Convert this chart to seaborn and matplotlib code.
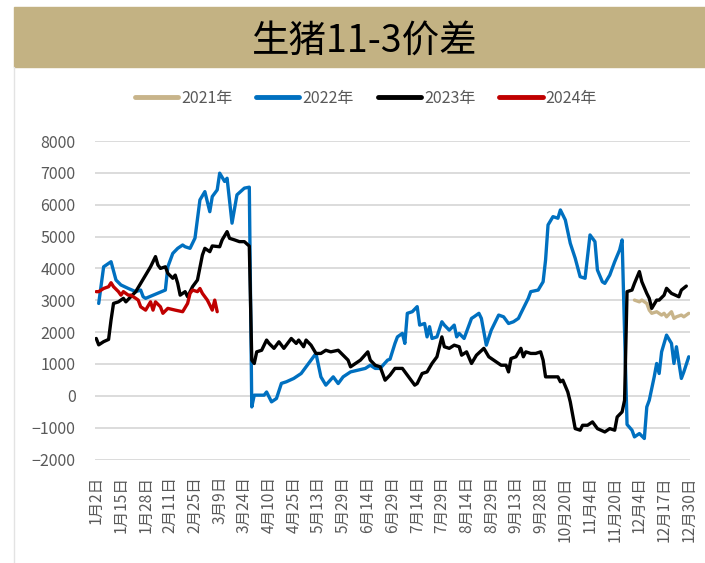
import numpy as np
import pandas as pd
import seaborn as sns
import matplotlib.pyplot as plt
from matplotlib.patches import Rectangle
from matplotlib.lines import Line2D

# x axis: trading-day categories, one label every 10 days
x_labels = ['1月2日', '1月15日', '1月28日', '2月11日', '2月25日', '3月9日', '3月24日',
            '4月10日', '4月25日', '5月13日', '5月29日', '6月14日', '6月29日', '7月14日',
            '7月29日', '8月14日', '8月29日', '9月13日', '9月28日', '10月20日', '11月4日',
            '11月20日', '12月4日', '12月17日', '12月30日']
n_days = 241
label_step = 10

# series (day index, spread)
idx_2021 = [218, 220, 221, 223, 224, 225, 227, 229, 230, 231, 233, 234, 235, 237, 238, 240]
val_2021 = [3005, 2950, 3005, 2900, 2690, 2590, 2640, 2535, 2590, 2480, 2640, 2430, 2480,
            2535, 2480, 2590]

idx_2022 = [1, 3, 6, 8, 10, 13, 16, 18, 19, 20, 28, 29, 31, 33, 35, 36, 38, 40, 42, 44,
            46, 47, 49, 50, 52, 53, 55, 57, 60, 62, 63, 64, 68, 69, 71, 73, 75, 77, 80, 83,
            86, 88, 89, 91, 93, 96, 98, 100, 103, 106, 109, 111, 113, 115, 118, 119, 121, 122,
            124, 125, 126, 128, 130, 131, 133, 134, 135, 136, 138, 140, 141, 143, 145, 146,
            147, 149, 152, 153, 155, 156, 158, 160, 161, 163, 165, 167, 169, 171, 172, 174,
            175, 176, 179, 181, 182, 183, 185, 187, 188, 190, 192, 194, 196, 198, 200, 202,
            203, 205, 206, 208, 210, 212, 213, 215, 217, 218, 220, 222, 223, 224, 226, 227,
            228, 229, 230, 231, 233, 234, 235, 237, 238, 240]
val_2022 = [2900, 4050, 4210, 3635, 3480, 3370, 3270, 3320, 3110, 3060, 3320, 4050, 4470,
            4630, 4735, 4680, 4630, 4950, 6150, 6410, 5780, 6255, 6465, 6990, 6730, 6830,
            5420, 6310, 6520, 6550, -350, 20, 20, 120, -190, -85, 390, 440, 545, 700, 1015,
            1225, 1330, 595, 335, 595, 385, 595, 750, 805, 860, 960, 860, 860, 1120, 1150,
            1645, 1850, 1960, 1645, 2590, 2640, 2800, 2220, 2270, 1850, 2170, 1800, 1850,
            2325, 2220, 2060, 2220, 1850, 1960, 1800, 2430, 2480, 2590, 2430, 1590, 2060,
            2220, 2535, 2480, 2270, 2325, 2430, 2590, 2900, 3060, 3270, 3320, 3580, 4265,
            5365, 5625, 5575, 5835, 5520, 4790, 4320, 3740, 3690, 5050, 4840, 3950, 3580,
            3530, 3790, 4210, 4580, 4895, -900, -1080, -1290, -1185, -1340, -350, -140, 595,
            1015, 700, 1380, 1645, 1905, 1645, 1015, 1540, 545, 750, 1225]

idx_2023 = [0, 1, 3, 5, 6, 7, 9, 11, 12, 14, 16, 18, 20, 22, 23, 24, 25, 26, 28, 29, 31,
            32, 33, 34, 36, 37, 38, 39, 41, 43, 44, 46, 47, 50, 51, 53, 54, 56, 58, 60, 62,
            63, 64, 65, 67, 69, 70, 72, 74, 76, 79, 81, 82, 84, 85, 87, 89, 91, 93, 95, 98,
            100, 102, 103, 105, 107, 110, 111, 113, 115, 116, 117, 119, 121, 123, 124, 126,
            127, 129, 130, 132, 134, 136, 138, 140, 141, 143, 145, 147, 148, 150, 152, 154,
            157, 159, 162, 164, 166, 167, 168, 170, 172, 173, 174, 176, 178, 180, 181, 182,
            184, 187, 188, 189, 191, 192, 193, 194, 196, 197, 199, 201, 203, 206, 208, 210,
            211, 213, 214, 215, 217, 218, 220, 221, 223, 224, 225, 227, 228, 230, 231, 233,
            236, 237, 239]
val_2023 = [1800, 1600, 1700, 1770, 2380, 2900, 2950, 3060, 2950, 3110, 3270, 3530, 3790,
            4050, 4210, 4370, 4105, 4000, 4050, 3845, 3690, 3790, 3530, 3160, 3270, 3110,
            3270, 3425, 3635, 4420, 4630, 4525, 4705, 4680, 4895, 5155, 4945, 4895, 4840,
            4840, 4700, 1120, 1015, 1380, 1430, 1750, 1645, 1490, 1695, 1490, 1800, 1645,
            1750, 1540, 1750, 1590, 1330, 1330, 1430, 1380, 1430, 1275, 1120, 910, 1015, 1120,
            1380, 1120, 960, 910, 700, 490, 650, 860, 860, 860, 650, 545, 335, 385, 700, 750,
            1015, 1225, 1850, 1540, 1490, 1590, 1540, 1275, 1380, 1015, 1275, 1490, 1225,
            1065, 960, 960, 750, 1170, 1225, 1490, 1225, 1380, 1330, 1330, 1380, 1120, 595,
            595, 595, 440, 490, 120, -190, -610, -1030, -1080, -925, -925, -820, -1030, -1135,
            -1030, -1080, -665, -505, -140, 3270, 3320, 3530, 3900, 3580, 3215, 3060, 2745,
            3005, 3005, 3160, 3375, 3215, 3110, 3320, 3445]

idx_2024 = [0, 1, 3, 5, 6, 7, 9, 10, 11, 13, 14, 16, 17, 18, 20, 22, 23, 24, 26, 27, 29,
            32, 35, 37, 38, 39, 41, 42, 43, 45, 46, 47, 48, 49]
val_2024 = [3270, 3270, 3370, 3425, 3550, 3425, 3270, 3160, 3270, 3160, 3160, 3060, 3005,
            2795, 2690, 2950, 2690, 2950, 2795, 2590, 2745, 2690, 2640, 2900, 3215, 3320,
            3270, 3370, 3215, 3005, 2850, 2690, 3005, 2640]

years = ['2021年', '2022年', '2023年', '2024年']
colors = ['#C8B48A', '#0070C0', '#000000', '#C00000']

frames = []
for year, idx, val in zip(years, [idx_2021, idx_2022, idx_2023, idx_2024],
                          [val_2021, val_2022, val_2023, val_2024]):
    frames.append(pd.DataFrame({'day': idx, 'spread': val, 'year': year}))
df = pd.concat(frames, ignore_index=True)

sns.set_theme(style='white')
plt.rcParams['font.family'] = ['Noto Sans CJK SC', 'DejaVu Sans']

fig = plt.figure(figsize=(7.05, 5.63), dpi=100)
ax = fig.add_axes([95 / 705, 1 - 459.5 / 563, 595 / 705, 318.5 / 563])

# title band
fig.patches.append(Rectangle((14 / 705, 1 - 67 / 563), 1, 60 / 563,
                             transform=fig.transFigure, color='#C3B283', zorder=0))
fig.lines.append(Line2D([14 / 705, 14 / 705], [0, 1 - 67 / 563],
                        transform=fig.transFigure, color='#E3E3E3', lw=1))
fig.text(0.518, 1 - 41 / 563, '生猪11-3价差', ha='center', va='center',
         fontsize=27, color='black')

sns.lineplot(data=df, x='day', y='spread', hue='year', hue_order=years,
             palette=dict(zip(years, colors)), sort=False, estimator=None,
             linewidth=2.4, ax=ax)

ax.set_xlim(-0.5, n_days - 0.5)
ax.set_ylim(-2000, 8000)
ax.set_yticks(np.arange(-2000, 8001, 1000))
ax.set_xticks(np.arange(0, n_days, label_step))
ax.set_xticklabels(x_labels, rotation=90)
ax.set_xlabel('')
ax.set_ylabel('')
ax.grid(axis='y', color='#D9D9D9', linewidth=1.3)
ax.set_axisbelow(True)
for s in ax.spines.values():
    s.set_visible(False)
ax.tick_params(axis='y', length=0, pad=14, labelsize=11.5, labelcolor='#595959')
ax.tick_params(axis='x', length=0, pad=12, labelsize=11.2, labelcolor='#595959')

handles, labels = ax.get_legend_handles_labels()
for h in handles:
    h.set_linewidth(3.5)
ax.legend(handles, labels, loc='center', bbox_to_anchor=(0.519, 1 - 98 / 563),
          bbox_transform=fig.transFigure, ncol=4, frameon=False, fontsize=11.5,
          handlelength=2.7, handletextpad=0.2, columnspacing=1.5,
          labelcolor='#595959')

fig.savefig('out.png', dpi=100)
plt.close()
